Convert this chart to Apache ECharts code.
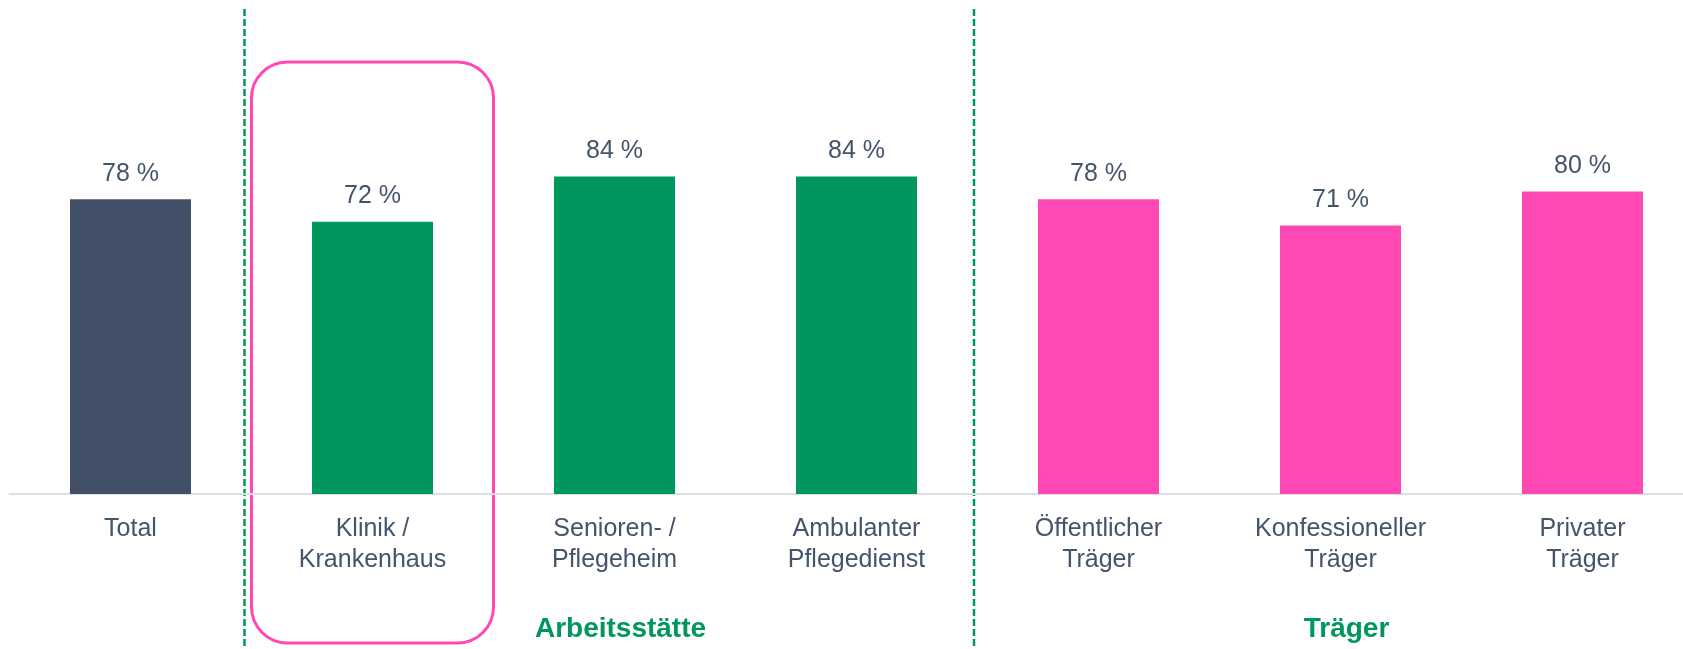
<!DOCTYPE html>
<html>
<head>
<meta charset="utf-8">
<script src="https://cdn.jsdelivr.net/npm/echarts@6/dist/echarts.min.js"></script>
<style>
  html, body { margin: 0; padding: 0; background: #fff; }
  #chart { width: 1683px; height: 649px; }
</style>
</head>
<body>
<div id="chart"></div>
<script>
// Kategorien und Werte (in %)
var categories = ['Total', 'Klinik /\nKrankenhaus', 'Senioren- /\nPflegeheim', 'Ambulanter\nPflegedienst',
                  'Öffentlicher\nTräger', 'Konfessioneller\nTräger', 'Privater\nTräger'];
var values = [78, 72, 84, 84, 78, 71, 80];
var barColors = ['#415066', '#00975F', '#00975F', '#00975F', '#FF48B4', '#FF48B4', '#FF48B4'];
var groupLabels = ['Arbeitsstätte', 'Träger'];
var groupCenterIndex = [2, 5];

var textColor = '#44546A';
var green = '#00975F';
var pink = '#FF48B4';
var fontFamily = "'Liberation Sans', Arial, sans-serif";

var chart = echarts.init(document.getElementById('chart'));

var barData = values.map(function (v, i) {
    return { value: v, itemStyle: { color: barColors[i] } };
});

var option = {
    animation: false,
    grid: {
        left: 9.5,
        width: 1694,
        top: 116,
        bottom: 155,
        outerBoundsMode: 'none'
    },
    xAxis: {
        type: 'category',
        data: categories,
        axisLine: { show: true, lineStyle: { color: '#DCDFEA', width: 2 } },
        axisTick: { show: false },
        axisLabel: {
            interval: 0,
            margin: 20,
            color: textColor,
            fontSize: 25,
            lineHeight: 31,
            fontFamily: fontFamily
        }
    },
    yAxis: {
        type: 'value',
        min: 0,
        max: 100,
        show: false,
        splitLine: { show: false }
    },
    series: [{
        type: 'bar',
        barWidth: '50%',
        data: barData,
        label: {
            show: true,
            position: 'top',
            distance: 13,
            color: textColor,
            fontSize: 25,
            fontFamily: fontFamily,
            formatter: function (p) { return p.value + ' %'; }
        }
    }]
};
chart.setOption(option);

// Hilfslinien, Rahmen und Gruppentitel aus den Achsenpositionen
function px(i) {
    return chart.convertToPixel({ xAxisIndex: 0 }, i);
}
var band = px(1) - px(0);
var sep1 = px(0) + band / 2 - 7;
var sep2 = px(3) + band / 2 - 3.5;

var graphics = [];
[sep1, sep2].forEach(function (x) {
    graphics.push({
        type: 'line',
        shape: { x1: x, y1: 9, x2: x, y2: 646 },
        style: { stroke: green, lineWidth: 2.5, lineDash: [7, 3] },
        silent: true
    });
});
graphics.push({
    type: 'rect',
    shape: { x: px(1) - band / 2, y: 62, width: band, height: 581, r: 36 },
    style: { fill: null, stroke: pink, lineWidth: 3 },
    silent: true
});
groupLabels.forEach(function (t, k) {
    graphics.push({
        type: 'text',
        x: px(groupCenterIndex[k]) + 6,
        y: 629,
        style: {
            text: t,
            fill: green,
            font: 'bold 28px ' + fontFamily,
            align: 'center',
            verticalAlign: 'middle'
        },
        silent: true
    });
});
chart.setOption({ graphic: graphics });
</script>
</body>
</html>
